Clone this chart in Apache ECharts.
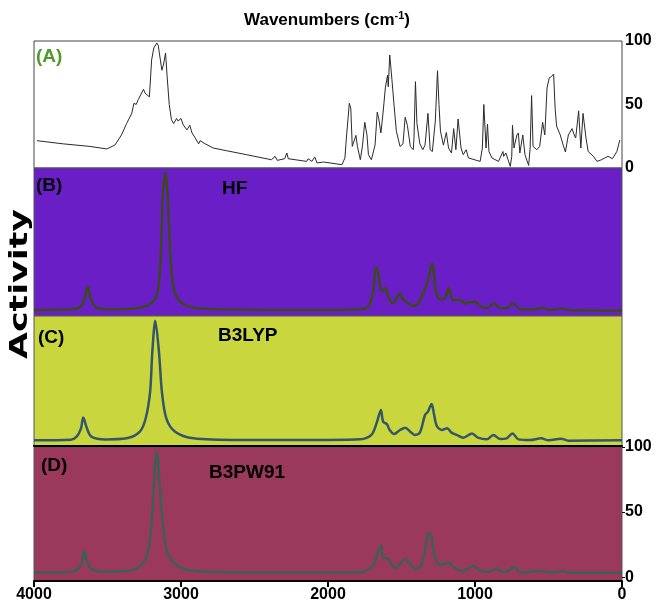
<!DOCTYPE html>
<html>
<head>
<meta charset="utf-8">
<script src="https://cdn.jsdelivr.net/npm/echarts@6/dist/echarts.min.js"></script>
<style>
  html, body { margin: 0; padding: 0; background: #fff; }
  #chart { width: 656px; height: 604px; }
</style>
</head>
<body>
<div id="chart"></div>
<script>
// wavenumber axis + activity ticks
const wavenumberTicks = [4000, 3000, 2000, 1000, 0]
const activityTicks = [0, 50, 100]

const panelLetters = ['(A)', '(B)', '(C)', '(D)']
const methodNames = ['', 'HF', 'B3LYP', 'B3PW91']

// (A) experimental spectrum, [cm-1, activity]
const expA = [
  [3980, 21.5], [3800, 19], [3620, 17], [3505, 15], [3450, 18], [3405, 26], [3370, 35], [3335, 43],
  [3320, 51], [3305, 50], [3290, 54], [3280, 53], [3255, 62], [3245, 59], [3235, 60], [3215, 56],
  [3200, 85], [3185, 94.5], [3165, 98.4], [3155, 96.6], [3130, 77], [3120, 81], [3105, 90.5], [3095, 73],
  [3080, 50], [3065, 38], [3050, 35], [3030, 39], [3020, 37], [3000, 39], [2985, 34], [2960, 30],
  [2940, 33.6], [2925, 27.6], [2905, 24], [2880, 19], [2870, 21.5], [2835, 19], [2780, 15.7], [2690, 13.6],
  [2555, 10.5], [2385, 6.5], [2360, 9.2], [2345, 6], [2295, 7.3], [2280, 11.8], [2270, 7.3], [2145, 5.2],
  [2135, 7.3], [2110, 5.2], [2090, 8.7], [2075, 4], [2030, 4.7], [1905, 2.6], [1885, 7.9], [1875, 23.6],
  [1855, 51], [1845, 47], [1835, 17], [1825, 15.7], [1810, 25.7], [1800, 17], [1780, 6.5], [1765, 18],
  [1750, 36], [1735, 26], [1725, 10.5], [1705, 6.5], [1680, 18], [1665, 44], [1655, 39], [1640, 27.6],
  [1625, 44], [1610, 63], [1595, 73], [1590, 64], [1580, 89], [1565, 69.5], [1550, 48.6], [1535, 29],
  [1510, 17], [1490, 19], [1475, 40], [1460, 33.6], [1440, 17], [1420, 14.4], [1415, 23.6], [1405, 68],
  [1395, 35], [1375, 19], [1355, 14.4], [1340, 18], [1320, 43], [1305, 14.4], [1290, 13], [1270, 37],
  [1255, 76.6], [1245, 50], [1235, 29], [1215, 18], [1195, 28], [1180, 15.7], [1160, 11.8], [1145, 31],
  [1130, 14.4], [1115, 38.6], [1095, 15.7], [1080, 10.5], [1060, 14.4], [1045, 7.9], [965, 5.2], [950, 15.7],
  [940, 50], [925, 15.7], [915, 34.6], [905, 13], [885, 7.9], [840, 5.2], [810, 13], [805, 9.2],
  [790, 11.8], [775, 6.5], [760, 1.3], [750, 9.2], [745, 33.6], [735, 15.7], [715, 26], [705, 27.6],
  [695, 11.8], [675, 26], [660, 10.5], [635, 2], [625, 15.7], [615, 57], [605, 17], [580, 14.4],
  [560, 17], [540, 36], [525, 26], [510, 63], [495, 71], [480, 72], [465, 74], [455, 47],
  [445, 33], [420, 26], [400, 18], [385, 12.6], [365, 26], [340, 31], [325, 26], [315, 23.6],
  [295, 45], [280, 15.7], [265, 43], [245, 23.6], [230, 13], [195, 9.2], [170, 5.2], [140, 6.5],
  [95, 9.2], [65, 7.3], [35, 13], [15, 22]
]

// (B) HF
const hfB = [
  [4000, 4], [3750, 4.5], [3685, 6.3], [3655, 12], [3635, 19.8], [3615, 12], [3575, 5.6], [3450, 4.5],
  [3280, 5.6], [3190, 9.7], [3155, 18.7], [3135, 45.7], [3125, 79.5], [3105, 97], [3090, 79.5], [3075, 45.7],
  [3050, 18.7], [3005, 9.7], [2915, 5.6], [2735, 4.5], [2400, 4], [2000, 4], [1780, 4.5], [1725, 6.8],
  [1695, 15.3], [1680, 28.8], [1670, 33], [1655, 26.6], [1640, 17.6], [1625, 17.1], [1610, 18.7], [1590, 13],
  [1560, 8.6], [1540, 10.8], [1510, 15.3], [1490, 11.3], [1455, 8.6], [1425, 6.8], [1385, 8.6], [1340, 18.7],
  [1320, 23.9], [1300, 33.3], [1290, 35.1], [1280, 28.8], [1265, 16.4], [1240, 11.3], [1205, 12], [1180, 18.7],
  [1165, 15.3], [1150, 10.8], [1100, 10.8], [1070, 8.6], [1035, 9.3], [1000, 9.7], [965, 6.8], [920, 5.2],
  [870, 8.6], [830, 5.2], [785, 5.2], [740, 8.6], [695, 4.7], [605, 4.5], [545, 5.6], [500, 4],
  [405, 5], [355, 4], [0, 3.6]
]

// (C) B3LYP
const b3lypC = [
  [4000, 4.4], [3750, 4.8], [3710, 7.2], [3680, 13.6], [3665, 22], [3640, 13.6], [3610, 7.2], [3515, 5],
  [3370, 5.9], [3280, 11], [3240, 21.3], [3210, 41.8], [3195, 72.5], [3175, 96.4], [3150, 72.5], [3130, 41.8],
  [3100, 21.3], [3040, 11], [2915, 5.9], [2600, 4.6], [2000, 4.6], [1780, 5.1], [1705, 8.5], [1670, 17.4],
  [1640, 27.7], [1625, 18.7], [1600, 16.9], [1580, 12.3], [1550, 9.2], [1510, 12.3], [1475, 14.1], [1440, 11],
  [1410, 8.5], [1375, 10.3], [1340, 23.8], [1320, 26.4], [1295, 32.3], [1280, 25.2], [1260, 15.4], [1225, 12.3],
  [1190, 13.6], [1160, 10.3], [1125, 8.5], [1080, 6.4], [1020, 9.7], [980, 6.4], [920, 5.1], [875, 8.5],
  [830, 5.4], [785, 5.9], [745, 9.7], [705, 5.1], [625, 4.6], [550, 5.9], [500, 4.4], [415, 5.6],
  [365, 4.1], [0, 4.4]
]

// (D) B3PW91
const b3pw91D = [
  [4000, 3.6], [3750, 4], [3700, 6.2], [3675, 11.8], [3660, 20.2], [3640, 11.8], [3610, 6.2], [3515, 4.2],
  [3370, 4.6], [3270, 9.2], [3225, 19.5], [3200, 42.6], [3185, 70.8], [3165, 96.4], [3145, 70.8], [3125, 42.6],
  [3095, 19.5], [3030, 9.2], [2915, 4.6], [2600, 3.6], [2000, 3.6], [1780, 3.6], [1690, 9.2], [1665, 18.2],
  [1640, 24.1], [1625, 15.1], [1590, 14.4], [1565, 9.2], [1535, 7.2], [1500, 11.8], [1475, 13.8], [1440, 9.7],
  [1410, 5.9], [1365, 9.2], [1335, 23.3], [1320, 33.1], [1300, 33.6], [1290, 25.9], [1270, 14.4], [1240, 9.2],
  [1180, 11], [1135, 6.7], [1080, 4.6], [1010, 8.5], [965, 5], [910, 4.1], [850, 6.7], [820, 4.1],
  [775, 4.6], [735, 7.9], [695, 3.8], [535, 4.6], [490, 3.3], [400, 4.6], [355, 3.3], [0, 3.3]
]

const chart = echarts.init(document.getElementById('chart'), null, { renderer: 'canvas' })

const FONT = 'Liberation Sans, Arial, sans-serif'
const panelBg = ['#ffffff', '#6a1fc6', '#c9d63e', '#9b395c']
const lineColors = ['#2a2a2a', '#3a4a1c', '#34566a', '#3c6058']
const panels = [
  { top: 41, height: 127 },
  { top: 168, height: 148 },
  { top: 316, height: 130 },
  { top: 447, height: 134 }
]
const labelPos = [
  { lx: 36, ly: 57, mx: 0, my: 0 },
  { lx: 36, ly: 186, mx: 222, my: 189 },
  { lx: 38, ly: 338, mx: 218, my: 336 },
  { lx: 41, ly: 466, mx: 209, my: 473 }
]
const seriesData = [expA, hfB, b3lypC, b3pw91D]

const grids = panels.map((p, i) => ({
  left: 34, right: 34, top: p.top, height: p.height,
  show: true, backgroundColor: panelBg[i],
  borderColor: i === 0 ? '#444' : '#555', borderWidth: 1
}))

const xAxes = panels.map((p, i) => {
  const last = i === 3
  return {
    type: 'value', gridIndex: i, min: 0, max: 4000, interval: 1000, inverse: true,
    axisLine: { show: last || i === 2, onZero: false, lineStyle: { color: '#000', width: 2 } },
    axisTick: { show: last, length: 6, lineStyle: { color: '#000', width: 2 } },
    axisLabel: {
      show: last, color: '#000', fontWeight: 'bold', fontSize: 16, fontFamily: FONT, margin: 6,
      customValues: wavenumberTicks, formatter: v => String(v)
    },
    splitLine: { show: false }
  }
})

const yAxes = panels.map((p, i) => {
  const base = {
    type: 'value', gridIndex: i, position: 'right', max: 100,
    axisLine: { show: false }, splitLine: { show: false }
  }
  if (i === 0) {
    return Object.assign(base, {
      min: 0, interval: 50,
      axisTick: { show: false },
      axisLabel: { color: '#000', fontWeight: 'bold', fontSize: 16, fontFamily: FONT, margin: 3 }
    })
  }
  if (i === 3) {
    return Object.assign(base, {
      min: -3,
      axisTick: { show: true, length: 3, customValues: activityTicks, lineStyle: { color: '#000' } },
      axisLabel: { color: '#000', fontWeight: 'bold', fontSize: 16, fontFamily: FONT, margin: 3, customValues: activityTicks }
    })
  }
  return Object.assign(base, { min: 0, axisTick: { show: false }, axisLabel: { show: false } })
})

const series = seriesData.map((d, i) => ({
  type: 'line', xAxisIndex: i, yAxisIndex: i, data: d,
  showSymbol: false, smooth: i === 0 ? false : 0.3,
  lineStyle: { color: lineColors[i], width: i === 0 ? 1 : 2.5 },
  silent: true
}))

const graphic = [
  {
    type: 'text', x: 327, y: 20,
    style: {
      text: 'Wavenumbers (cm{sup|-1})', textAlign: 'center', textVerticalAlign: 'middle',
      font: 'bold 17px ' + FONT, fill: '#000',
      rich: { sup: { fontSize: 11, fontWeight: 'bold', fontFamily: FONT, verticalAlign: 'top', padding: [0, 0, 8, 0] } }
    }
  },
  {
    type: 'text', x: 21, y: 284, rotation: Math.PI / 2, scaleX: 1.45,
    style: { text: 'Activity', textAlign: 'center', textVerticalAlign: 'middle', font: 'bold 24px DejaVu Sans', fill: '#000' }
  }
]
labelPos.forEach((lp, i) => {
  graphic.push({
    type: 'text', x: lp.lx, y: lp.ly,
    style: { text: panelLetters[i], textVerticalAlign: 'middle', font: 'bold 19px ' + FONT, fill: i === 0 ? '#4f9a2c' : '#000' }
  })
  if (methodNames[i]) {
    graphic.push({
      type: 'text', x: lp.mx, y: lp.my,
      style: { text: methodNames[i], textVerticalAlign: 'middle', font: 'bold 19px ' + FONT, fill: '#000' }
    })
  }
})

chart.setOption({
  animation: false,
  backgroundColor: '#fff',
  grid: grids,
  xAxis: xAxes,
  yAxis: yAxes,
  series,
  graphic
})
</script>
</body>
</html>
